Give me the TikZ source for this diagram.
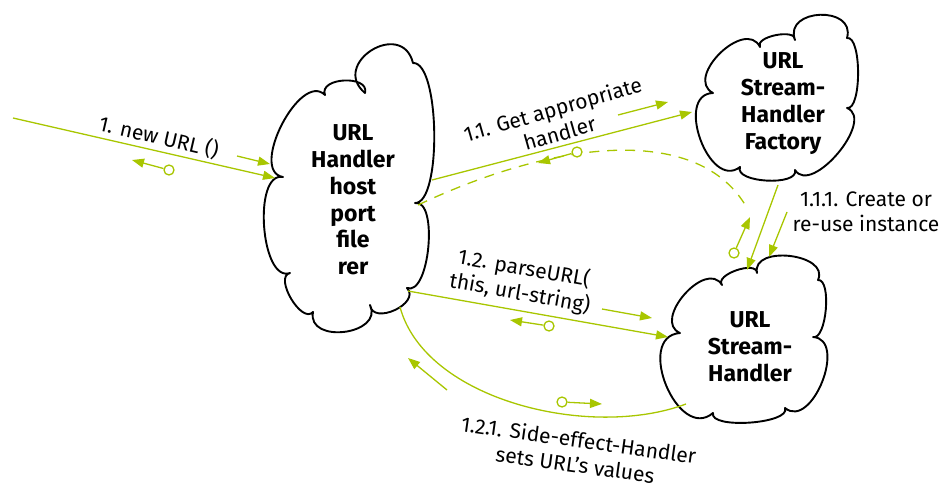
\documentclass[tikz,border=0pt]{standalone}
\usepackage{fontspec}
\setmainfont{Fira Sans}
\usetikzlibrary{arrows.meta,calc}
\definecolor{flow}{RGB}{168,198,0}
\tikzset{
  % one outward bulge of a cloud outline, drawn clockwise from #1 to #2
  bump/.style n args={4}{insert path={.. controls ($#1!#3pt!#4:#2$) and ($#2!#3pt!-#4:#1$) .. #2}},
  cloudline/.style={draw=black, line width=1.9pt, fill=white, line join=round},
  cloudtext/.style={font=\fontsize{23}{26.8}\selectfont\bfseries, align=center, inner sep=0pt},
  label/.style={font=\fontsize{21}{25}\selectfont, align=center, inner sep=0pt},
  tip/.style={-{Triangle[length=12pt,width=9pt]}},
  conn/.style={draw=flow, line width=1.3pt, tip},
  plainconn/.style={draw=flow, line width=1.3pt},
  dir/.style={draw=flow, line width=1.3pt, tip},
  ring/.style={circle, draw=flow, line width=1.3pt, fill=white, minimum size=10pt, inner sep=0pt},
}
\begin{document}
\begin{tikzpicture}[x=1pt,y=-1pt]
\useasboundingbox (0,0) rectangle (942,487);

% ---- clouds ----
\draw[cloudline] (283,177)
  [bump={(283,177)}{(325,95)}{35}{108}]
  [bump={(325,95)}{(365,93)}{19}{108}]
  [bump={(365,93)}{(413,63)}{46}{108}]
  [bump={(413,63)}{(415,203)}{27}{92}]
  [bump={(415,203)}{(407,288)}{24}{105}]
  [bump={(407,288)}{(370,305)}{21}{108}]
  [bump={(370,305)}{(313,312)}{33}{108}]
  [bump={(313,312)}{(290,273)}{17}{108}]
  [bump={(290,273)}{(283,177)}{31}{105}] -- cycle;

\draw[cloudline] (713,93)
  [bump={(713,93)}{(760,47)}{33}{108}]
  [bump={(760,47)}{(795,40)}{12}{108}]
  [bump={(795,40)}{(847,38)}{34}{108}]
  [bump={(847,38)}{(847,108)}{15}{100}]
  [bump={(847,108)}{(795,170)}{31}{108}]
  [bump={(795,170)}{(740,167)}{17}{108}]
  [bump={(740,167)}{(713,93)}{39}{108}] -- cycle;

\draw[cloudline] (680,333)
  [bump={(680,333)}{(722,285)}{31}{108}]
  [bump={(722,285)}{(757,273)}{13}{108}]
  [bump={(757,273)}{(818,280)}{29}{108}]
  [bump={(818,280)}{(813,337)}{14}{100}]
  [bump={(813,337)}{(785,408)}{35}{108}]
  [bump={(785,408)}{(713,413)}{17}{108}]
  [bump={(713,413)}{(680,333)}{46}{108}] -- cycle;

\node[cloudtext] (handler) at (353,200) {URL\\Handler\\host\\port\\file\\rer};
\node[cloudtext] (factory) at (783,103.5) {URL\\Stream-\\Handler\\Factory};
\node[cloudtext] (stream) at (750,347) {URL\\Stream-\\Handler};

% ---- connector end points ----
\coordinate (a1s) at (13,118);   \coordinate (a1e) at (275,178);
\coordinate (d1s) at (237,156);  \coordinate (d1e) at (270,164);
\coordinate (r1e) at (132,160);
\coordinate (a2s) at (432,180);  \coordinate (a2e) at (692,112);
\coordinate (d2s) at (618,115);  \coordinate (d2e) at (668,102);
\coordinate (b2s) at (418,205);  \coordinate (b2e) at (747,208);
\coordinate (r2e) at (538,163);
\coordinate (a3s) at (778,185);  \coordinate (a3e) at (747,270);
\coordinate (d3s) at (787,212);  \coordinate (d3e) at (769,257);
\coordinate (r3e) at (750,217);
\coordinate (a4s) at (408,291);  \coordinate (a4e) at (668,337);
\coordinate (d4s) at (602,309);  \coordinate (d4e) at (652,318);
\coordinate (r4e) at (510,320);
\coordinate (a5s) at (686,404);  \coordinate (a5e) at (400,307);
\coordinate (d5s) at (447,390);  \coordinate (d5e) at (408,358);
\coordinate (r5e) at (602,404);

% ---- 1. new URL () ----
\draw[conn] (a1s) -- (a1e);
\draw[dir] (d1s) -- (d1e);
\node[ring] (r1) at (169,170) {};
\draw[dir] (r1) -- (r1e);
\node[label, rotate=-13] (l1) at (159,137) {1. new URL ()};

% ---- 1.1. get handler ----
\draw[conn] (a2s) -- (a2e);
\draw[dir] (d2s) -- (d2e);
\draw[plainconn, dash pattern=on 10pt off 8pt] (b2s) .. controls (560,138) and (700,125) .. (b2e);
\node[ring] (r2) at (577,152) {};
\draw[dir] (r2) -- (r2e);
\node[label, rotate=16] (l2) at (556,121) {1.1. Get appropriate\\handler};

% ---- 1.1.1. create or re-use ----
\draw[conn] (a3s) -- (a3e);
\draw[dir] (d3s) -- (d3e);
\node[ring] (r3) at (734,253) {};
\draw[dir] (r3) -- (r3e);
\node[label] (l3) at (866,212) {1.1.1. Create or\\re-use instance};

% ---- 1.2. parseURL ----
\draw[conn] (a4s) -- (a4e);
\draw[dir] (d4s) -- (d4e);
\node[ring] (r4) at (549,326) {};
\draw[dir] (r4) -- (r4e);
\node[label, rotate=-10] (l4) at (522,281) {1.2. parseURL(\\this, url-string)};

% ---- 1.2.1. side effect ----
\draw[plainconn] (a5s) .. controls (590,440) and (425,400) .. (a5e);
\draw[dir] (d5s) -- (d5e);
\node[ring] (r5) at (562,402) {};
\draw[dir] (r5) -- (r5e);
\node[label, rotate=-8] (l5) at (577,452) {1.2.1. Side-effect-Handler\\sets URL’s values};
\end{tikzpicture}
\end{document}
